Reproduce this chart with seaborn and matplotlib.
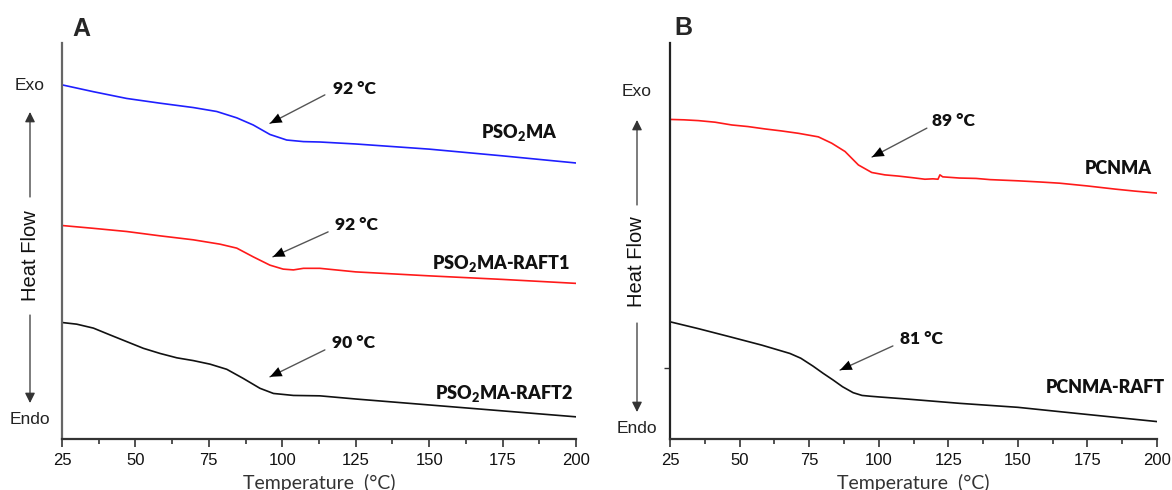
import numpy as np
import pandas as pd
import matplotlib
matplotlib.use("Agg")
import matplotlib.pyplot as plt
import seaborn as sns

# ---------------- data (heat flow in arbitrary units, 0..100 axis) ----------------
temp_a_blue = [25.2, 35.7, 47.0, 58.4, 69.7, 77.7, 84.5, 90.1, 95.8, 101.5, 107.2, 112.8, 125, 150, 175, 200]
hf_a_blue = [89.4, 87.7, 86.0, 84.8, 83.7, 82.7, 81.1, 79.3, 76.9, 75.5, 75.1, 75.0, 74.5, 73.2, 71.5, 69.7]

temp_a_red = [25.2, 35.7, 47.0, 58.4, 69.7, 78.8, 84.5, 90.1, 95.8, 100.3, 103.8, 107.2, 112.8, 125, 150, 175, 200]
hf_a_red = [53.9, 53.2, 52.4, 51.3, 50.3, 49.2, 48.2, 46.0, 43.9, 42.9, 42.7, 43.1, 43.1, 42.2, 41.2, 40.3, 39.3]

temp_a_black = [25.2, 30.0, 35.7, 41.3, 47.0, 52.7, 58.4, 64.1, 69.7, 75.4, 81.1, 86.7, 92.4, 97.0,
                103.8, 112.8, 125, 150, 175, 200]
hf_a_black = [29.4, 29.0, 28.0, 26.3, 24.6, 22.9, 21.6, 20.5, 19.8, 18.9, 17.6, 15.3, 12.8, 11.5,
              11.0, 10.9, 10.1, 8.6, 7.1, 5.6]

temp_b_red = [25, 30, 35.2, 41.2, 47.2, 53, 59.1, 65, 71.1, 78.3, 83.1, 87.9, 92.7, 97.5, 102.2, 107.0,
              112, 116.6, 119.5, 121.3, 122, 123, 129, 135, 140, 150, 158, 165, 175, 185, 192, 200]
hf_b_red = [80.7, 80.6, 80.4, 80.0, 79.3, 78.9, 78.3, 77.8, 77.2, 76.3, 74.7, 72.6, 69.2, 67.3, 66.7, 66.4,
            66.0, 65.6, 65.7, 65.6, 66.7, 66.2, 65.9, 65.8, 65.5, 65.2, 64.9, 64.6, 63.9, 63.1, 62.6, 62.1]

temp_b_black = [25, 35, 46.6, 58, 68.1, 72, 76.4, 80, 83.6, 87, 90.8, 94, 97, 100.5, 110, 129.2, 150, 165.1, 200]
hf_b_black = [29.6, 27.9, 25.8, 23.7, 21.6, 20.4, 18.4, 16.6, 14.9, 13.2, 11.7, 11.0, 10.8, 10.6, 10.1, 9.0, 8.0, 6.9, 4.4]

xticks = [25, 50, 75, 100, 125, 150, 175, 200]

# ---------------- style ----------------
sns.set_theme(style="ticks")
plt.rcParams["font.family"] = ["Liberation Sans", "DejaVu Sans"]
plt.rcParams["mathtext.fontset"] = "custom"
plt.rcParams["mathtext.rm"] = "Lato:heavy"
plt.rcParams["mathtext.it"] = "Lato:heavy"
plt.rcParams["mathtext.bf"] = "Lato:heavy"

W, H = 1172, 490
fig = plt.figure(figsize=(W / 100, H / 100), dpi=100)

def px(x, y):
    return (x / W, 1 - y / H)

ax_a = fig.add_axes([62 / W, 1 - 439 / H, (576 - 62) / W, (439 - 43) / H])
ax_b = fig.add_axes([670 / W, 1 - 439 / H, (1157 - 670) / W, (439 - 43) / H])

df_a = pd.concat([
    pd.DataFrame({"T": temp_a_blue, "HF": hf_a_blue, "s": "PSO2MA"}),
    pd.DataFrame({"T": temp_a_red, "HF": hf_a_red, "s": "PSO2MA-RAFT1"}),
    pd.DataFrame({"T": temp_a_black, "HF": hf_a_black, "s": "PSO2MA-RAFT2"}),
])
df_b = pd.concat([
    pd.DataFrame({"T": temp_b_red, "HF": hf_b_red, "s": "PCNMA"}),
    pd.DataFrame({"T": temp_b_black, "HF": hf_b_black, "s": "PCNMA-RAFT"}),
])

sns.lineplot(data=df_a, x="T", y="HF", hue="s", ax=ax_a, legend=False, sort=False,
             palette={"PSO2MA": "#1f1fff", "PSO2MA-RAFT1": "#ff1a1a", "PSO2MA-RAFT2": "#111111"},
             linewidth=1.2, estimator=None)
sns.lineplot(data=df_b, x="T", y="HF", hue="s", ax=ax_b, legend=False, sort=False,
             palette={"PCNMA": "#ff1a1a", "PCNMA-RAFT": "#111111"},
             linewidth=1.2, estimator=None)
for ax in (ax_a, ax_b):
    for ln in ax.get_lines():
        ln.set_solid_joinstyle("round")

for ax, spine_col in ((ax_a, "#666666"), (ax_b, "#222222")):
    ax.set_xlim(25, 200)
    ax.set_ylim(0, 100)
    ax.set_xticks(xticks)
    ax.set_xticks(np.arange(37.5, 200, 25), minor=True)
    ax.tick_params(axis="x", which="major", length=6, width=1.2, color="#333333",
                   labelsize=12, labelcolor="#111111", pad=4)
    ax.tick_params(axis="x", which="minor", length=3.5, width=1.2, color="#333333")
    ax.spines["top"].set_visible(False)
    ax.spines["right"].set_visible(False)
    ax.spines["left"].set_color(spine_col)
    ax.spines["left"].set_linewidth(1.6)
    ax.spines["bottom"].set_color("#333333")
    ax.spines["bottom"].set_linewidth(1.6)
    ax.set_ylabel("")
    ax.set_xlabel("Temperature  (°C)", fontsize=14, family="Lato", color="#333333", labelpad=4)
    ax.patch.set_alpha(0)

ax_a.set_yticks([])
ax_b.set_yticks([17.9])
ax_b.set_yticklabels([""])
ax_b.tick_params(axis="y", length=4, width=1, color="#333333")

# annotations
ann_kw = dict(fontsize=12.5, family="Lato", fontweight="heavy", color="#111111")

def arrow(ax, text, txy, tail, tip):
    ax.text(txy[0], txy[1], text, ha="center", va="center", **ann_kw)
    ax.annotate("", xy=tip, xytext=tail,
                arrowprops=dict(arrowstyle="-", color="#555555", lw=1.0, shrinkA=0, shrinkB=0))
    dx, dy = tail[0] - tip[0], tail[1] - tip[1]
    back = (tip[0] + dx * 0.22, tip[1] + dy * 0.22)
    ax.annotate("", xy=tip, xytext=back,
                arrowprops=dict(arrowstyle="-|>,head_length=0.7,head_width=0.3", color="#000000",
                                lw=0.01, shrinkA=0, shrinkB=0))

arrow(ax_a, "92 °C", (124.4, 88.4), (114.5, 86.9), (95.8, 79.7))
arrow(ax_a, "92 °C", (125.1, 54.0), (115.6, 52.3), (96.8, 46.0))
arrow(ax_a, "90 °C", (124.1, 24.2), (114.5, 22.5), (95.8, 15.7))
arrow(ax_b, "89 °C", (127.0, 80.3), (117.3, 78.5), (97.6, 71.2))
arrow(ax_b, "81 °C", (115.2, 25.3), (105.1, 23.5), (86.1, 17.4))

lab_kw = dict(fontsize=13, family="Lato", fontweight="heavy", color="#111111", ha="right", va="center")
ax_a.text(193.5, 77.3, r"PSO$_2$MA", **lab_kw)
ax_a.text(198, 44.4, r"PSO$_2$MA-RAFT1", **lab_kw)
ax_a.text(199, 11.4, r"PSO$_2$MA-RAFT2", **lab_kw)
ax_b.text(198.2, 68.4, "PCNMA", **lab_kw)
ax_b.text(202.9, 12.9, "PCNMA-RAFT", clip_on=False, **lab_kw)

# panel letters
fig.text(*px(81, 29), "A", fontsize=18, fontweight="bold", ha="center", va="center")
fig.text(*px(683, 28), "B", fontsize=18, fontweight="bold", ha="center", va="center")

# Exo / Endo / Heat Flow
def side(xc, exo_y, endo_y, hf_y, up, down):
    fig.text(*px(xc, exo_y), "Exo", fontsize=12.5, ha="center", va="center", color="#222222")
    fig.text(*px(xc, endo_y), "Endo", fontsize=12.5, ha="center", va="center", color="#222222")
    fig.text(*px(xc, hf_y), "Heat Flow", fontsize=14.5, ha="center", va="center",
             rotation=90, color="#111111")
    for a, b in (up, down):
        fig.add_artist(matplotlib.patches.FancyArrowPatch(
            px(xc, a), px(xc, b), transform=fig.transFigure,
            arrowstyle="-|>,head_length=6,head_width=3", mutation_scale=1,
            color="#333333", lw=0.9, shrinkA=0, shrinkB=0))

side(30, 85, 420, 256, (197, 112), (315, 403))
side(637, 92, 428, 262, (205, 120), (323, 412))

fig.savefig("out.png", dpi=100)
